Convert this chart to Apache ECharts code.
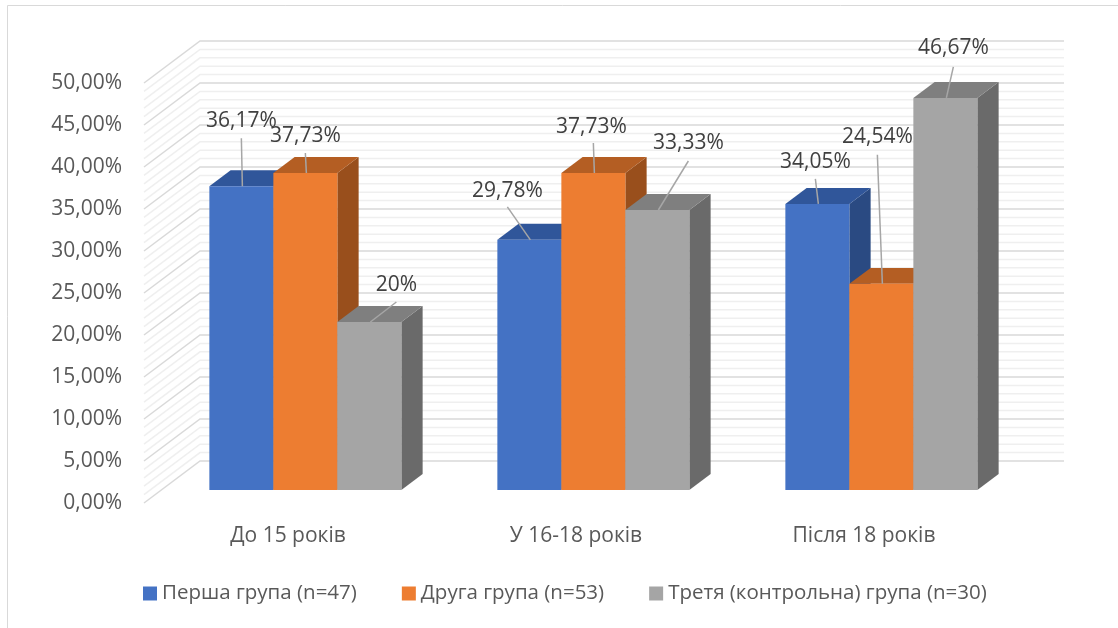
<!DOCTYPE html>
<html><head><meta charset="utf-8">
<script src="https://cdn.jsdelivr.net/npm/echarts@6/dist/echarts.min.js"></script>
<style>html,body{margin:0;padding:0;background:#fff}#c{width:1118px;height:628px}</style>
</head><body><div id="c"></div>
<script>
const categories = ['До 15 років', 'У 16-18 років', 'Після 18 років'];
const seriesNames = ['Перша група (n=47)', 'Друга група (n=53)', 'Третя (контрольна) група (n=30)'];
const firstGroup = [36.17, 29.78, 34.05];
const secondGroup = [37.73, 37.73, 24.54];
const thirdGroup = [20, 33.33, 46.67];
const yTickMin = 0, yTickMax = 50, yTickStep = 5, yMinorStep = 1;

// layout constants (not data)
const FONT = 'Open Sans';
const DX = 56, DY = 42;         // full depth of the 3D box
const F0 = 0.31, F1 = 0.69;     // bar front / back depth fraction
const faceColors = [
  { front: '#4472C4', top: '#30569A', side: '#2A4A82' },
  { front: '#ED7D31', top: '#B45E23', side: '#994F1C' },
  { front: '#A5A5A5', top: '#7F7F7F', side: '#6A6A6A' }
];
// label text offset and leader-line start offset relative to bar top-front centre
const labelLayout = [
  [{ t: [0, -65], l: [0, -48] }, { t: [-22, -49], l: [-22, -33] }, { t: [-2, -42], l: [-2, -25] }],
  [{ t: [0, -37], l: [0, -20] }, { t: [-2, -46], l: [0, -30] }, { t: [-4, -147], l: [-4, -129] }],
  [{ t: [27, -37], l: [27, -20] }, { t: [31, -67], l: [31, -49] }, { t: [8, -50], l: [8, -31] }]
];

const seriesValues = [firstGroup, secondGroup, thirdGroup];
const fmtVal = v => String(v).replace('.', ',') + '%';
const fmtTick = v => v.toFixed(2).replace('.', ',') + '%';

const wallTicks = [];
for (let v = yTickMin; v <= yTickMax + 1e-9; v += yMinorStep) wallTicks.push([0, v]);

function wallRender(params, api) {
  const cs = params.coordSys;
  const v = api.value(1);
  const p = api.coord([0, v]);
  const major = Math.abs(v % yTickStep) < 1e-9;
  return {
    type: 'polyline',
    shape: { points: [[cs.x, p[1]], [cs.x + DX, p[1] - DY], [cs.x + cs.width + DX, p[1] - DY]] },
    style: { stroke: major ? '#d9d9d9' : '#efefef', lineWidth: 1.5, fill: null }
  };
}

function barRender(si) {
  return function (params, api) {
    const cat = api.value(0), val = api.value(1);
    const top = api.coord([cat, val]);
    const base = api.coord([cat, 0]);
    const band = api.size([1, 0])[0];
    const bw = band * 2 / 9;
    const x0 = top[0] - 1.5 * bw + si * bw + F0 * DX;
    const yb = base[1] - F0 * DY;
    const yt = top[1] - F0 * DY;
    const ddx = (F1 - F0) * DX, ddy = (F1 - F0) * DY;
    const c = faceColors[si];
    const ax = x0 + bw / 2, ay = yt;
    const lay = labelLayout[si][params.dataIndex];
    return {
      type: 'group',
      children: [
        { type: 'polygon', shape: { points: [[x0 + bw, yt], [x0 + bw + ddx, yt - ddy], [x0 + bw + ddx, yb - ddy], [x0 + bw, yb]] }, style: { fill: c.side } },
        { type: 'polygon', shape: { points: [[x0, yt], [x0 + bw, yt], [x0 + bw + ddx, yt - ddy], [x0 + ddx, yt - ddy]] }, style: { fill: c.top } },
        { type: 'rect', shape: { x: x0, y: yt, width: bw, height: yb - yt }, style: { fill: c.front } },
        { type: 'line', z2: 100, shape: { x1: ax + lay.l[0], y1: ay + lay.l[1], x2: ax + 1, y2: ay }, style: { stroke: '#a6a6a6', lineWidth: 1.5 } },
        { type: 'text', z2: 101, style: { text: fmtVal(val), x: ax + lay.t[0], y: ay + lay.t[1], align: 'center', verticalAlign: 'middle', textAlign: 'center', textVerticalAlign: 'middle', fontSize: 21, fontFamily: FONT, fill: '#404040' } }
      ]
    };
  };
}

const chart = echarts.init(document.getElementById('c'));
chart.setOption({
  animation: false,
  backgroundColor: '#fff',
  graphic: [
    { type: 'line', shape: { x1: 7.5, y1: 5.5, x2: 1118, y2: 5.5 }, style: { stroke: '#d9d9d9', lineWidth: 1 } },
    { type: 'line', shape: { x1: 7.5, y1: 5.5, x2: 7.5, y2: 628 }, style: { stroke: '#d9d9d9', lineWidth: 1 } }
  ],
  grid: { left: 144, top: 83, width: 864, height: 420, containLabel: false },
  xAxis: {
    type: 'category', data: categories,
    axisLine: { show: false }, axisTick: { show: false },
    axisLabel: { margin: 23, fontSize: 21, fontFamily: FONT, color: '#595959' },
    splitLine: { show: false }
  },
  yAxis: {
    type: 'value', min: yTickMin, max: yTickMax, interval: yTickStep,
    axisLine: { show: false }, axisTick: { show: false }, splitLine: { show: false },
    axisLabel: { margin: 22, fontSize: 21, fontFamily: FONT, color: '#595959', formatter: fmtTick }
  },
  legend: {
    data: seriesNames, left: 138, top: 578, icon: 'rect', itemWidth: 14, itemHeight: 14, itemGap: 45,
    textStyle: { fontSize: 20.5, fontFamily: FONT, color: '#595959' }
  },
  series: [
    { type: 'custom', name: '_wall', z: 1, silent: true, renderItem: wallRender, data: wallTicks },
  ].concat(seriesValues.map((vals, si) => ({
    type: 'custom', name: seriesNames[si], z: 2,
    itemStyle: { color: faceColors[si].front },
    renderItem: barRender(si),
    data: vals.map((v, i) => [i, v])
  })))
});
</script></body></html>
